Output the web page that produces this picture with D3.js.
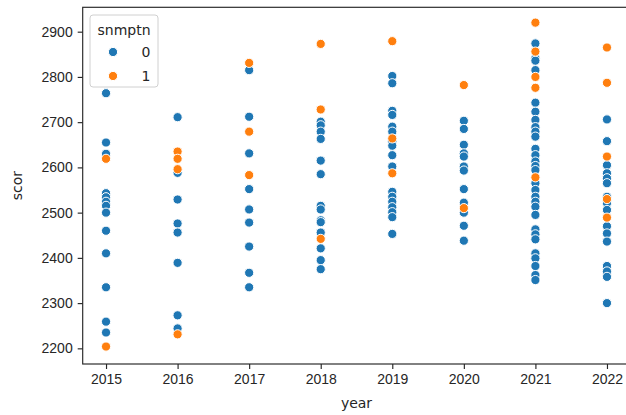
<!DOCTYPE html>
<html>
<head>
<meta charset="utf-8">
<script src="https://cdn.jsdelivr.net/npm/d3@7"></script>
<style>
  body { margin: 0; background: #fff; }
  svg { display: block; font-family: "DejaVu Sans", sans-serif; }
  .axis text { font-size: 14px; fill: #262626; }
  .axis line, .axis path { stroke: #262626; stroke-width: 1.15px; }
</style>
</head>
<body>
<div id="chart"></div>
<script>
var years = [2015, 2016, 2017, 2018, 2019, 2020, 2021, 2022];
var yTicks = [2200, 2300, 2400, 2500, 2600, 2700, 2800, 2900];

// scor values per year, snmptn = 0
var scor0 = [
  [2764, 2655, 2630, 2543, 2534, 2524, 2515, 2500, 2460, 2410, 2335, 2259, 2235],
  [2711, 2588, 2529, 2476, 2456, 2389, 2273, 2244],
  [2815, 2712, 2631, 2552, 2507, 2478, 2425, 2367, 2335],
  [2701, 2693, 2679, 2663, 2615, 2585, 2515, 2507, 2483, 2479, 2456, 2421, 2395, 2375],
  [2802, 2786, 2725, 2716, 2690, 2679, 2657, 2648, 2627, 2602, 2546, 2535, 2524, 2512, 2501, 2490, 2453],
  [2703, 2685, 2650, 2631, 2624, 2602, 2593, 2552, 2522, 2500, 2471, 2438],
  [2874, 2841, 2836, 2815, 2743, 2723, 2705, 2689, 2679, 2668, 2641, 2627, 2613, 2603, 2594, 2565, 2550, 2535, 2524, 2513, 2495, 2463, 2452, 2441, 2410, 2399, 2382, 2362, 2351],
  [2706, 2658, 2605, 2587, 2576, 2565, 2535, 2521, 2506, 2470, 2454, 2436, 2382, 2370, 2358, 2300]
];

// scor values per year, snmptn = 1
var scor1 = [
  [2619, 2204],
  [2635, 2619, 2596, 2231],
  [2831, 2679, 2583],
  [2873, 2728, 2442],
  [2879, 2664, 2587],
  [2782, 2510],
  [2920, 2856, 2800, 2776, 2578],
  [2865, 2787, 2624, 2530, 2489]
];

var groups = ["0", "1"];
var colors = ["#1f77b4", "#ff7f0e"];

var W = 626, H = 415;
var margin = { left: 82.7, right: 630.3, top: 7.3, bottom: 364 };

var points = [];
years.forEach(function (yr, i) {
  scor0[i].forEach(function (v) { points.push({ year: yr, scor: v, g: 0 }); });
});
years.forEach(function (yr, i) {
  scor1[i].forEach(function (v) { points.push({ year: yr, scor: v, g: 1 }); });
});

var x = d3.scaleLinear().domain([2014.674, 2022.326]).range([margin.left, margin.right]);
var y = d3.scaleLinear().domain([2165.4, 2953.9]).range([margin.bottom, margin.top]);
var color = d3.scaleOrdinal().domain([0, 1]).range(colors);

var svg = d3.select("#chart").append("svg")
  .attr("width", W)
  .attr("height", H);

svg.selectAll("circle.pt")
  .data(points)
  .enter()
  .append("circle")
  .attr("class", "pt")
  .attr("cx", function (d) { return x(d.year); })
  .attr("cy", function (d) { return y(d.scor); })
  .attr("r", 4.6)
  .attr("fill", function (d) { return color(d.g); })
  .attr("stroke", "#fff")
  .attr("stroke-width", 1);

// axes
var xAxis = d3.axisBottom(x).tickValues(years).tickFormat(d3.format("d")).tickSize(5).tickPadding(5);
svg.append("g").attr("class", "axis")
  .attr("transform", "translate(0," + margin.bottom + ")")
  .call(xAxis)
  .call(function (g) { g.select(".domain").remove(); });

var yAxis = d3.axisLeft(y).tickValues(yTicks).tickFormat(d3.format("d")).tickSize(5).tickPadding(5);
svg.append("g").attr("class", "axis")
  .attr("transform", "translate(" + margin.left + ",0)")
  .call(yAxis)
  .call(function (g) { g.select(".domain").remove(); });

// frame
svg.append("rect")
  .attr("x", margin.left)
  .attr("y", margin.top)
  .attr("width", margin.right - margin.left)
  .attr("height", margin.bottom - margin.top)
  .attr("fill", "none")
  .attr("stroke", "#262626")
  .attr("stroke-width", 1.15);

svg.append("text")
  .attr("x", (margin.left + margin.right) / 2)
  .attr("y", 408)
  .attr("text-anchor", "middle")
  .style("font-size", "14px")
  .style("fill", "#262626")
  .text("year");

svg.append("text")
  .attr("transform", "translate(22," + ((margin.top + margin.bottom) / 2) + ") rotate(-90)")
  .attr("text-anchor", "middle")
  .style("font-size", "14px")
  .style("fill", "#262626")
  .text("scor");

// legend
var lg = svg.append("g").attr("transform", "translate(90,15)");
lg.append("rect")
  .attr("width", 68)
  .attr("height", 72)
  .attr("rx", 3)
  .attr("fill", "#fff")
  .attr("fill-opacity", 0.8)
  .attr("stroke", "#d0d0d0")
  .attr("stroke-width", 1);
lg.append("text")
  .attr("x", 34)
  .attr("y", 20)
  .attr("text-anchor", "middle")
  .style("font-size", "14px")
  .style("fill", "#262626")
  .text("snmptn");

groups.forEach(function (g, i) {
  lg.append("circle")
    .attr("cx", 23)
    .attr("cy", 37 + i * 24)
    .attr("r", 4.6)
    .attr("fill", colors[i])
    .attr("stroke", "#fff")
    .attr("stroke-width", 1);
  lg.append("text")
    .attr("x", 56)
    .attr("y", 42 + i * 24)
    .attr("text-anchor", "middle")
    .style("font-size", "14px")
    .style("fill", "#262626")
    .text(g);
});
</script>
</body>
</html>
